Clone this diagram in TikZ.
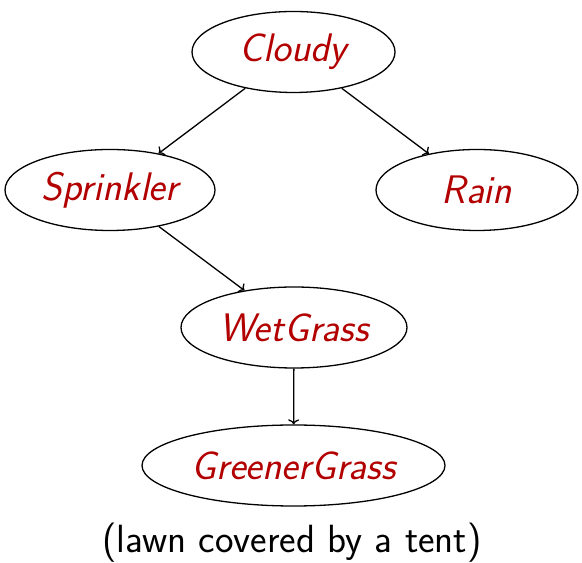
\documentclass[tikz,border=0pt]{standalone}
\usetikzlibrary{shapes.geometric,arrows.meta}
\definecolor{nodetext}{rgb}{0.70,0,0}
\begin{document}
\begin{tikzpicture}[x=1bp,y=1bp,
  var/.style={ellipse, draw=black, line width=1.3bp, inner sep=0pt, minimum height=81bp,
    font=\fontsize{40}{48}\selectfont\sffamily\itshape, text=nodetext},
  edge/.style={-{To[length=5bp,width=11bp]}, line width=1.3bp}]
\useasboundingbox (0,0) rectangle (582,563);
\node[var, minimum width=203bp] (cloudy) at (293.5,511) {Cloudy};
\node[var, minimum width=210bp] (sprinkler) at (110,373) {Sprinkler};
\node[var, minimum width=202bp] (rain) at (477,373) {Rain};
\node[var, minimum width=226bp] (wet) at (294,235.5) {WetGrass};
\node[var, minimum width=303bp] (green) at (293.5,97.5) {GreenerGrass};
\node[font=\fontsize{39.5}{47}\selectfont\sffamily] (cap) at (292,20) {(lawn covered by a tent)};
\draw[edge] (cloudy) -- (sprinkler);
\draw[edge] (cloudy) -- (rain);
\draw[edge] (sprinkler) -- (wet);
\draw[edge] (wet) -- (green);
\end{tikzpicture}
\end{document}
